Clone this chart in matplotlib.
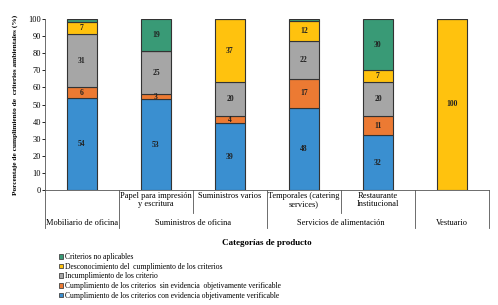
import matplotlib.pyplot as plt
from matplotlib.patches import Patch
from matplotlib.transforms import blended_transform_factory
import numpy as np

plt.rcParams['font.family'] = ['Liberation Serif', 'DejaVu Serif']

# stacking order bottom -> top
con_evidencia = [54, 53, 39, 48, 32, 0]
sin_evidencia = [6, 3, 4, 17, 11, 0]
incumplimiento = [31, 25, 20, 22, 20, 0]
desconocimiento = [7, 0, 37, 12, 7, 100]
no_aplicables = [2, 19, 0, 1, 30, 0]

series = [con_evidencia, sin_evidencia, incumplimiento, desconocimiento, no_aplicables]
names = ["Cumplimiento de los criterios con evidencia objetivamente verificable",
         "Cumplimiento de los criterios  sin evidencia  objetivamente verificable",
         "Incumplimiento de los criterio",
         "Desconocimiento del  cumplimiento de los criterios",
         "Criterios no aplicables"]
colors = ['#3A8FD0', '#EC7A33', '#A6A6A6', '#FFC20E', '#399A76']

sub_labels = ["", "Papel para impresión\ny escritura", "Suministros varios",
              "Temporales (catering\nservices)", "Restaurante\nInstitucional", ""]
groups = [("Mobiliario de oficina", 0.0), ("Suministros de oficina", 1.5),
          ("Servicios de alimentación", 3.5), ("Vestuario", 5.0)]

fig = plt.figure(figsize=(4.98, 3.05), dpi=100)
ax = fig.add_axes([45/498, 1-190/305, 444/498, 171/305])

x = np.arange(len(con_evidencia))
bottom = np.zeros(len(x))
for vals, c in zip(series, colors):
    vals = np.array(vals, dtype=float)
    ax.bar(x, vals, 0.4, bottom=bottom, color=c, edgecolor='#333333', linewidth=0.8)
    for xi, v, b in zip(x, vals, bottom):
        if v >= 3:
            ax.text(xi, b + v/2, str(int(v)), ha='center', va='center',
                    fontsize=5.5, fontweight='bold', color='#222222')
    bottom += vals

ax.set_xlim(-0.5, 5.5)
ax.set_ylim(0, 100)
ax.set_yticks(range(0, 101, 10))
ax.tick_params(axis='y', labelsize=6, length=2, pad=1, width=0.6)
ax.set_xticks([])
for s in ['top', 'right']:
    ax.spines[s].set_visible(False)
ax.spines['left'].set_linewidth(0.6)
ax.spines['bottom'].set_linewidth(0.6)
ax.spines['left'].set_color('#555555')
ax.spines['bottom'].set_color('#555555')

tr = blended_transform_factory(ax.transData, ax.transAxes)
row1 = -0.134
row2 = -0.222
for xs in [-0.5, 0.5, 2.5, 4.5, 5.5]:
    ax.plot([xs, xs], [0, row2], transform=tr, color='#555555', lw=0.6, clip_on=False)
for xs in [1.5, 3.5]:
    ax.plot([xs, xs], [0, row1], transform=tr, color='#555555', lw=0.6, clip_on=False)
for xi, lab in zip(x, sub_labels):
    if lab:
        ax.text(xi, -0.01, lab, transform=tr, ha='center', va='top', fontsize=6,
                linespacing=1.0)
for lab, xc in groups:
    ax.text(xc, -0.193, lab, transform=tr, ha='center', va='center', fontsize=6)

ax.text(0.5, -0.31, "Categorías de producto", transform=ax.transAxes, ha='center',
        va='center', fontsize=6.5, fontweight='bold')
ax.set_ylabel("Porcentaje de cumplimiento de  criterios ambientales (%)",
              fontsize=5.3, fontweight='bold', labelpad=7)

handles = [Patch(facecolor=c, edgecolor='#444444', linewidth=0.6) for c in colors]
fig.legend(handles[::-1], names[::-1], loc='upper left',
           bbox_to_anchor=(59/498, 1-253/305), frameon=False, fontsize=5.5,
           handlelength=0.55, handleheight=0.55, handletextpad=0.2,
           labelspacing=0.22, borderpad=0, borderaxespad=0)

fig.savefig('out.png', dpi=100)
